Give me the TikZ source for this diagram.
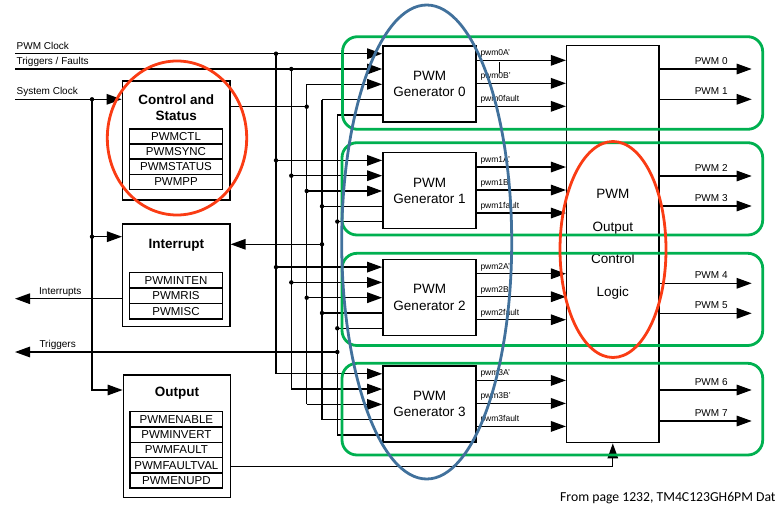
\documentclass[tikz,border=0pt]{standalone}
\usepackage{fontspec}
\setmainfont{Liberation Sans}
\newfontfamily\srcfont{Carlito}
\usetikzlibrary{arrows.meta}
\definecolor{grpgreen}{RGB}{0,176,80}
\definecolor{hlred}{RGB}{250,60,20}
\definecolor{hlblue}{RGB}{65,113,156}
\tikzset{
  sig/.style={line width=1.35pt},
  arr/.style={sig,-{Triangle[length=15pt,width=10.5pt]}},
  blk/.style={draw,line width=1.35pt,fill=white,inner sep=0pt},
  genbox/.style={blk,minimum width=93.3,minimum height=76,align=center,font=\fontsize{13.5}{16.5}\selectfont},
  ttl/.style={align=center,inner sep=0pt,font=\bfseries\fontsize{13.5}{16}\selectfont},
  reg/.style={draw,line width=1.35pt,minimum width=92.5,minimum height=15.3,inner sep=0pt,font=\fontsize{11.5}{12}\selectfont},
  lbl/.style={inner sep=0pt,anchor=base west,font=\fontsize{10}{12}\selectfont},
  slbl/.style={inner sep=0pt,anchor=base west,font=\fontsize{8.5}{10}\selectfont},
  plbl/.style={inner sep=0pt,anchor=base,font=\fontsize{10}{12}\selectfont},
  grp/.style={draw=grpgreen,line width=2.8pt,rounded corners=15pt},
  hl/.style={line width=2.8pt},
}

\begin{document}
\begin{tikzpicture}[x=1pt,y=-1pt]
\useasboundingbox (0,0) rectangle (778,505);
% register blocks on the left
\node[blk,minimum width=107.7,minimum height=119] (ctrl) at (176.2,140.5) {};
\node[ttl] (ctrlt) at (176.2,108) {Control and\\Status};
\foreach \r [count=\k] in {PWMCTL,PWMSYNC,PWMSTATUS,PWMPP}
  \node[reg] (cs\k) at (176,{121.5+15.1*\k}) {\r};
\node[blk,minimum width=107.3,minimum height=102.7] (intr) at (176.3,275.3) {};
\node[ttl] (intrt) at (176.3,245.7) {Interrupt};
\foreach \r [count=\k] in {PWMINTEN,PWMRIS,PWMISC}
  \node[reg] (ir\k) at (176,{264.55+15.55*\k}) {\r};
\node[blk,minimum width=107.4,minimum height=122.3] (outb) at (177,436.2) {};
\node[ttl] (outbt) at (177,393.3) {Output};
\foreach \r [count=\k] in {PWMENABLE,PWMINVERT,PWMFAULT,PWMFAULTVAL,PWMENUPD}
  \node[reg] (or\k) at (176.4,{404+15.3*\k}) {\r};

% generators and output logic
\node[blk,minimum width=92.3,minimum height=397,align=center,font=\fontsize{13.5}{32.7}\selectfont] (logic) at (612.8,244.2) {PWM\\Output\\Control\\Logic};
\foreach \i in {0,...,3}{
  \pgfmathsetmacro\gy{84+106.7*\i}
  \node[genbox] (gen\i) at (429.5,\gy) {PWM\\Generator \i};
  \foreach \j/\bx in {1/276,2/291.3,3/306.7,4/322,5/337.3}
    \coordinate (b\i\j) at (\bx,{\gy-45.6+15.3*\j});
}

% buses into the generators
\foreach \i in {0,...,3}{
  \foreach \j in {1,2,3} \draw[arr] (b\i\j) -- (b\i\j -| gen\i.west);
  \foreach \j in {4,5} \draw[sig] (b\i\j) -- (b\i\j -| gen\i.west);
}
\foreach \j in {1,...,5} \draw[sig] (b0\j) -- (b3\j);
\foreach \j in {1,2} \fill (b0\j) circle (2.2);
\foreach \i in {1,2} \foreach \j in {1,...,5} \fill (b\i\j) circle (2.2);

% left side signals
\coordinate (lft) at (15,0);
\draw[sig] (b01 -| lft) node[lbl,xshift=1pt,yshift=4.4pt] (lclk) {PWM Clock} -- (b01);
\draw[sig] (b02 -| lft) node[lbl,xshift=1pt,yshift=4.4pt] (ltf) {Triggers / Faults} -- (b02);
\coordinate (sclk) at (15,99.3);
\coordinate (cb) at (92,99.3);
\coordinate (cbi) at (92,236.7);
\coordinate (cbo) at (92,390);
\draw[arr] (sclk) node[lbl,xshift=1pt,yshift=4.4pt] (lsclk) {System Clock} -- (sclk -| ctrl.west);
\draw[arr] (cb) -- (cbo) -- (cbo -| outb.west);
\draw[arr] (cbi) -- (cbi -| intr.west);
\fill (cb) circle (2.2);
\fill (cbi) circle (2.2);
\coordinate (ctl) at (306.7,106.7);
\draw[sig] (ctl -| ctrl.east) -- (ctl);
\fill (ctl) circle (2.2);
\coordinate (iin) at (322,244.3);
\draw[arr] (iin) -- (iin -| intr.east);
\fill (iin) circle (2.2);
\coordinate (iout) at (15,298.7);
\draw[arr] (iout -| intr.west) -- (iout);
\node[lbl] (lint) at (39,294.3) {Interrupts};
\coordinate (trg) at (337.3,352);
\draw[arr] (trg) -- (trg -| lft);
\fill (trg) circle (2.2);
\node[lbl] (ltrg) at (39.3,347.6) {Triggers};
\coordinate (oc) at (612.8,466.7);
\draw[arr] (oc -| outb.east) -- (oc) -- (logic.south);

% generator outputs
\foreach \i in {0,...,3}
  \foreach \s [count=\k] in {A',B',fault}{
    \pgfmathsetmacro\dy{15+23*(\k-1)}
    \coordinate (o\i\k) at ([yshift={-\dy}]gen\i.north east);
    \draw[arr] (o\i\k) node[slbl,xshift=3pt,yshift=4.5pt] (s\i\k) {pwm\i\s} -- (o\i\k -| logic.west);
  }
\draw[line width=0.6pt] (499,62.3) -- (499,72.7);
\foreach \k/\y in {0/69,1/99.3,2/176,3/206,4/283.3,5/313.3,6/390,7/421}{
  \coordinate (p\k) at (751.7,\y);
  \draw[arr] (p\k -| logic.east) -- (p\k) node[plbl,pos=0.56,yshift=4.4pt] (pl\k) {PWM \k};
}

% highlights
\draw[grp] (342.5,36.7) rectangle (762.7,129.3);
\draw[grp] (342,142.7) rectangle (762.7,235);
\draw[grp] (342,253.3) rectangle (762.7,345.5);
\draw[grp] (342,363.3) rectangle (762.7,455);
\draw[hl,hlred] (177,138) ellipse [x radius=69.7,y radius=77];
\draw[hl,hlred] (613,249.5) ellipse [x radius=53,y radius=108];
\draw[hl,hlblue] (426.7,242) ellipse [x radius=85,y radius=237];

\node[inner sep=0pt,anchor=base west,font=\srcfont\fontsize{13.7}{16}\selectfont] (src) at (560,501.7) {From page 1232, TM4C123GH6PM Dat};
\end{tikzpicture}
\end{document}
